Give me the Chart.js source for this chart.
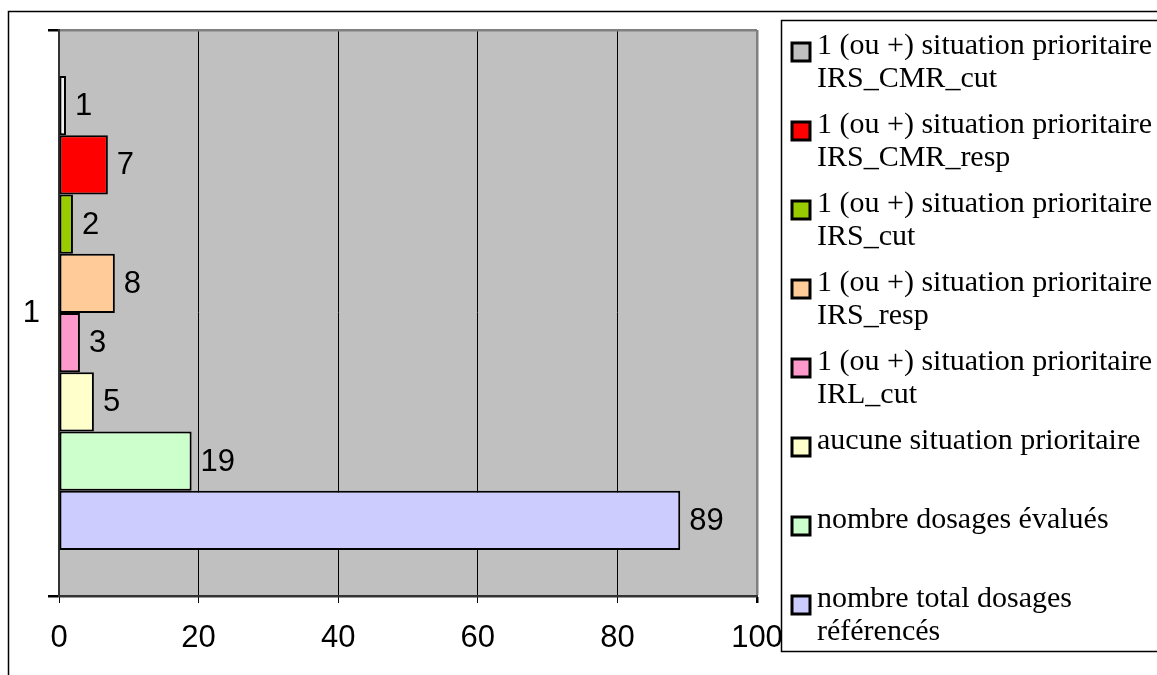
<!DOCTYPE html>
<html>
<head>
<meta charset="utf-8">
<script src="https://cdn.jsdelivr.net/npm/chart.js@4.4.1/dist/chart.umd.min.js"></script>
<style>
  body { margin: 0; background: #fff; }
  #wrap { width: 1157px; height: 675px; }
</style>
</head>
<body>
<div id="wrap"><canvas id="dosages" width="1157" height="675"></canvas></div>
<script>
/* data */
const categories = ['1'];
const seriesNames = [
  '1 (ou +) situation prioritaire IRS_CMR_cut',
  '1 (ou +) situation prioritaire IRS_CMR_resp',
  '1 (ou +) situation prioritaire IRS_cut',
  '1 (ou +) situation prioritaire IRS_resp',
  '1 (ou +) situation prioritaire IRL_cut',
  'aucune situation prioritaire',
  'nombre dosages évalués',
  'nombre total dosages référencés'
];
const seriesValues = [1, 7, 2, 8, 3, 5, 19, 89];
const xTicks = [0, 20, 40, 60, 80, 100];

const barColours = ['#f2f2f2', '#ff0000', '#99cc00', '#ffcc99', '#ff99cc', '#ffffcc', '#ccffcc', '#ccccff'];
const swatchColours = ['#c0c0c0', '#ff0000', '#99cc00', '#ffcc99', '#ff99cc', '#ffffcc', '#ccffcc', '#ccccff'];

const sansFont = '"Liberation Sans", Arial, sans-serif';
const serifFont = '"Liberation Serif", "Times New Roman", serif';

// grey plot background + outer frame
const backdrop = {
  id: 'backdrop',
  beforeDraw(chart) {
    const { ctx, chartArea: a } = chart;
    ctx.save();
    ctx.fillStyle = '#c0c0c0';
    ctx.fillRect(a.left, a.top, a.right - a.left, a.bottom - a.top);
    ctx.strokeStyle = '#000';
    ctx.lineWidth = 1.5;
    ctx.beginPath();
    ctx.moveTo(8.5, 675);
    ctx.lineTo(8.5, 11.5);
    ctx.lineTo(1157, 11.5);
    ctx.stroke();
    ctx.restore();
  }
};

// value next to each bar
const valueLabels = {
  id: 'valueLabels',
  afterDatasetsDraw(chart) {
    const ctx = chart.ctx;
    ctx.save();
    ctx.font = '31px ' + sansFont;
    ctx.fillStyle = '#000';
    ctx.textAlign = 'left';
    ctx.textBaseline = 'middle';
    chart.data.datasets.forEach((ds, i) => {
      chart.getDatasetMeta(i).data.forEach((bar, j) => {
        ctx.fillText(String(ds.data[j]), bar.x + 9, bar.y + 1);
      });
    });
    ctx.restore();
  }
};

// boxed legend on the right, text wrapped like the original
const sideLegend = {
  id: 'sideLegend',
  afterDraw(chart) {
    const ctx = chart.ctx;
    const left = 781, top = 20, bottom = 651;
    ctx.save();
    ctx.fillStyle = '#fff';
    ctx.fillRect(left, top, 1157 - left, bottom - top);
    ctx.strokeStyle = '#000';
    ctx.lineWidth = 1.5;
    ctx.strokeRect(left + 0.5, top + 0.5, 1157 - left + 5, bottom - top);

    ctx.font = '30px ' + serifFont;
    ctx.textBaseline = 'middle';
    const maxW = 350;
    chart.data.datasets.forEach((ds, i) => {
      const y = 45 + i * 79;
      // swatch, sitting a little below the text centre as in the original
      ctx.fillStyle = swatchColours[i];
      ctx.fillRect(792, y - 2, 18, 18);
      ctx.lineWidth = 3;
      ctx.strokeStyle = '#000';
      ctx.strokeRect(792, y - 2, 18, 18);
      // wrap text
      const words = ds.label.split(' ');
      const lines = [];
      let line = '';
      words.forEach(w => {
        const test = line ? line + ' ' + w : w;
        if (ctx.measureText(test).width > maxW && line) {
          lines.push(line);
          line = w;
        } else {
          line = test;
        }
      });
      lines.push(line);
      ctx.fillStyle = '#000';
      lines.forEach((l, k) => ctx.fillText(l, 817, y + 1 + k * 33));
    });
    ctx.restore();
  }
};

const datasets = seriesNames.map((name, i) => ({
  label: name,
  data: [seriesValues[i]],
  backgroundColor: barColours[i],
  borderColor: '#000',
  borderWidth: 2,
  borderSkipped: false,
  categoryPercentage: 0.8375,
  barPercentage: 1
}));

new Chart(document.getElementById('dosages'), {
  type: 'bar',
  data: { labels: categories, datasets: datasets },
  options: {
    indexAxis: 'y',
    responsive: false,
    animation: false,
    layout: { padding: { left: 0, top: 30, right: 400, bottom: 0 } },
    plugins: {
      legend: { display: false },
      tooltip: { enabled: false }
    },
    scales: {
      x: {
        min: xTicks[0],
        max: xTicks[xTicks.length - 1],
        afterBuildTicks(scale) {
          scale.ticks = xTicks.map(v => ({ value: v }));
        },
        afterFit(scale) { scale.height = 79; },
        border: { color: '#333', width: 2 },
        grid: {
          color: c => c.index === 0 ? '#333' : (c.index === xTicks.length - 1 ? '#808080' : '#000'),
          lineWidth: c => c.index === xTicks.length - 1 ? 2.5 : 1,
          tickColor: '#000',
          tickLength: 7
        },
        ticks: {
          color: '#000',
          font: { family: sansFont, size: 31 },
          padding: 17,
          maxRotation: 0,
          autoSkip: false
        }
      },
      y: {
        afterFit(scale) { scale.width = 59; },
        border: { color: '#333', width: 2 },
        grid: {
          offset: true,
          color: c => c.index === 0 ? '#808080' : '#333',
          lineWidth: 2.5,
          tickColor: '#000',
          tickLength: 11
        },
        ticks: {
          color: '#000',
          font: { family: sansFont, size: 31 },
          padding: 8
        }
      }
    }
  },
  plugins: [backdrop, valueLabels, sideLegend]
});
</script>
</body>
</html>
